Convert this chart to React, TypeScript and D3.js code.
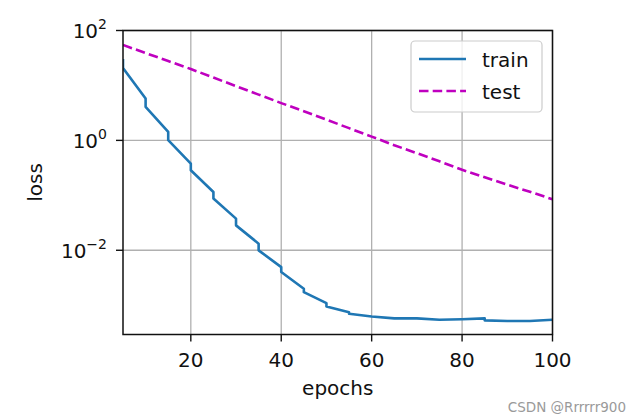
import React from "react";
import * as d3 from "d3";

const trainEpochs = [5, 5, 10, 10, 15, 15, 20, 20, 25, 25, 30, 30, 35, 35, 40, 40, 45, 45, 50, 50, 55, 55, 60, 65, 70, 75, 80, 85, 85, 90, 95, 100];
const trainLoss = [30.2, 20.7, 5.8, 4.08, 1.43, 1.01, 0.379, 0.286, 0.115, 0.0873, 0.0377, 0.0284, 0.0132, 0.00996, 0.00494, 0.00401, 0.002, 0.00173, 0.00109, 0.000948, 0.000747, 0.000698, 0.000624, 0.000575, 0.000575, 0.000545, 0.000555, 0.000575, 0.00053, 0.000516, 0.000516, 0.000543];

const testEpochs = [5, 10, 15, 20, 25, 30, 35, 40, 45, 50, 55, 60, 65, 70, 75, 80, 85, 90, 95, 100];
const testLoss = [54.5, 38.9, 27.8, 19.9, 13.9, 9.73, 6.81, 4.77, 3.4, 2.38, 1.67, 1.17, 0.817, 0.585, 0.416, 0.292, 0.213, 0.156, 0.116, 0.0847];

const xTicks = [20, 40, 60, 80, 100];
const yTickExps = [2, 0, -2];

const W = 636, H = 420;
const L = 123, R = 552.5, T = 30.5, B = 334.5;
const FONT = "DejaVu Sans, sans-serif";

export default function App() {
  const x = d3.scaleLinear().domain([5, 100]).range([L, R]);
  const y = d3.scaleLog().domain([Math.pow(10, -3.533), 100]).range([B, T]);
  const line = d3.line<[number, number]>().x(d => x(d[0])).y(d => y(d[1]));
  const trainPts = trainEpochs.map((e, i) => [e, trainLoss[i]] as [number, number]);
  const testPts = testEpochs.map((e, i) => [e, testLoss[i]] as [number, number]);
  const minus = "\u2212";

  return (
    <svg width={W} height={H} style={{ position: "absolute", left: 0, top: 0, background: "#fff" }} fontFamily={FONT}>
      <rect x={0} y={0} width={W} height={H} fill="#fff" />
      {xTicks.map(t => (
        <line key={"gx" + t} x1={x(t)} x2={x(t)} y1={T} y2={B} stroke="#b0b0b0" strokeWidth={1.3} />
      ))}
      {yTickExps.map(e => (
        <line key={"gy" + e} x1={L} x2={R} y1={y(Math.pow(10, e))} y2={y(Math.pow(10, e))} stroke="#b0b0b0" strokeWidth={1.3} />
      ))}
      <clipPath id="clip"><rect x={L} y={T} width={R - L} height={B - T} /></clipPath>
      <g clipPath="url(#clip)">
        <path d={line(trainPts) || ""} fill="none" stroke="#1f77b4" strokeWidth={2.6} strokeLinejoin="round" />
        <path d={line(testPts) || ""} fill="none" stroke="#bf00bf" strokeWidth={2.6} strokeDasharray="9.5,4.2" />
      </g>
      <rect x={L} y={T} width={R - L} height={B - T} fill="none" stroke="#111" strokeWidth={1.5} />
      {xTicks.map(t => (
        <g key={"xt" + t}>
          <line x1={x(t)} x2={x(t)} y1={B} y2={B + 7} stroke="#111" strokeWidth={1.4} />
          <text x={x(t)} y={367} textAnchor="middle" fontSize={20} fill="#111">{t}</text>
        </g>
      ))}
      {yTickExps.map(e => {
        const py = y(Math.pow(10, e));
        return (
          <g key={"yt" + e}>
            <line x1={L - 7} x2={L} y1={py} y2={py} stroke="#111" strokeWidth={1.4} />
            <text x={L - 16} y={py + 7.6} textAnchor="end" fontSize={20} fill="#111">
              10
              <tspan dy={-9} fontSize={14}>{e < 0 ? minus + Math.abs(e) : String(e)}</tspan>
            </text>
          </g>
        );
      })}
      <text x={(L + R) / 2} y={395} textAnchor="middle" fontSize={20} fill="#111">epochs</text>
      <text transform={`translate(42,${(T + B) / 2}) rotate(-90)`} textAnchor="middle" fontSize={20} fill="#111">loss</text>
      <rect x={411} y={41} width={131} height={71} rx={4} fill="#fff" fillOpacity={0.8} stroke="#cccccc" strokeWidth={1.2} />
      <line x1={419} x2={466} y1={59} y2={59} stroke="#1f77b4" strokeWidth={2.6} />
      <line x1={419} x2={466} y1={91} y2={91} stroke="#bf00bf" strokeWidth={2.6} strokeDasharray="9.5,4.2" />
      <text x={482} y={66.5} fontSize={20} fill="#111">train</text>
      <text x={482} y={98.5} fontSize={20} fill="#111">test</text>
      <text x={626} y={412} textAnchor="end" fontSize={13.5} fill="#9a9a9a">CSDN @Rrrrrr900</text>
    </svg>
  );
}
